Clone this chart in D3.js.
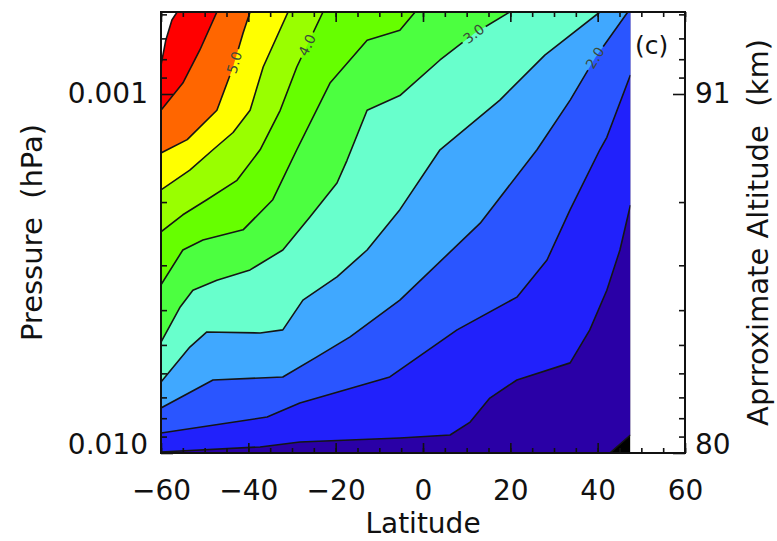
<!DOCTYPE html>
<html>
<head>
<meta charset="utf-8">
<script src="https://cdn.jsdelivr.net/npm/d3@7"></script>
<style>
  body { margin: 0; background: #fff; }
  text { font-family: "DejaVu Sans", sans-serif; fill: #111; }
</style>
</head>
<body>
<div id="chart"></div>
<script>
// contour levels and band colours (lowest band first, one more colour than levels)
let levels = [0.5, 1.0, 1.5, 2.0, 2.5, 3.0, 3.5, 4.0, 4.5, 5.0, 5.5, 6.0];
let bandColors = ['#000000', '#2a00a6', '#2121fb', '#2a55ff', '#40a8ff', '#68ffcc',
                  '#4cff40', '#66ff00', '#99ff00', '#ffff00', '#ff6600', '#ff0000', '#ffffff'];

// contour lines, [latitude, pressure hPa], from left/bottom edge to top/right edge
let line05 = [[42.8, 0.0100], [47.5, 0.00891]];
let line10 = [[-60, 0.00994], [-37.3, 0.00962], [-28.2, 0.00932], [-5.3, 0.00908], [6.2, 0.00891],
              [10.8, 0.00820], [15.3, 0.00703], [21.5, 0.00626], [33.7, 0.00561], [38.2, 0.00454],
              [42.1, 0.00352], [45.1, 0.00272], [47.5, 0.00204]];
let line15 = [[-60, 0.00880], [-35.7, 0.00794], [-28.2, 0.00726], [-7.6, 0.00614], [7.8, 0.00454],
              [21.5, 0.00368], [28.4, 0.00290], [33.7, 0.00210], [40.5, 0.00143], [42.1, 0.00132],
              [47.5, 0.000886]];
let line20 = [[-60, 0.00749], [-48.1, 0.00626], [-32.1, 0.00614], [-24.3, 0.00540], [-16.7, 0.00475],
              [-5.3, 0.00375], [13.1, 0.00229], [26.1, 0.00143], [33.7, 0.00104], [39.4, 0.000794],
              [46.9, 0.000591]];
let line25 = [[-60, 0.00634], [-53.4, 0.00507], [-49.5, 0.00460], [-37.3, 0.00463], [-32.1, 0.00454],
              [-27.5, 0.00375], [-19.7, 0.00323], [-12.8, 0.00272], [-5.3, 0.00210], [3.9, 0.00143],
              [17.6, 0.00104], [27.9, 0.000779], [40.5, 0.000591]];
let line30 = [[-60, 0.00491], [-55.6, 0.00392], [-52.7, 0.00352], [-47.2, 0.00330], [-39.6, 0.00309],
              [-32.1, 0.00272], [-25.9, 0.00220], [-19.7, 0.00177], [-17.4, 0.00153], [-12.8, 0.00111],
              [-5.3, 0.00101], [3.9, 0.000804], [11.9, 0.000676], [19.9, 0.000591]];
let line35 = [[-60, 0.00340], [-55, 0.00272], [-50.4, 0.00255], [-41.2, 0.00239], [-34.4, 0.00197],
              [-28.9, 0.00143], [-21.3, 0.000932], [-12.8, 0.000708], [-5.3, 0.000664], [-1.8, 0.000591]];
let line40 = [[-60, 0.00242], [-55, 0.00217], [-49.5, 0.00197], [-42.6, 0.00174], [-37.3, 0.00143],
              [-32.7, 0.00111], [-28.9, 0.000841], [-22.9, 0.000591]];
let line45 = [[-60, 0.00185], [-53.4, 0.00163], [-48.1, 0.00143], [-43.5, 0.00128], [-39.6, 0.00111],
              [-36.6, 0.000841], [-30.9, 0.000591]];
let line50 = [[-60, 0.00146], [-54, 0.00134], [-47.2, 0.00111], [-43.5, 0.000841], [-41.2, 0.000676],
              [-39.6, 0.000591]];
let line55 = [[-60, 0.00111], [-55, 0.000932], [-51.1, 0.000754], [-47.2, 0.000591]];
let line60 = [[-60, 0.000831], [-58.9, 0.000708], [-57.5, 0.000622], [-56.3, 0.000591]];
let contourLines = [line05, line10, line15, line20, line25, line30, line35, line40, line45, line50, line55, line60];

// contour labels
let labelLevels = [5.0, 4.0, 3.0, 2.0];
let labelLats = [-43.7, -26.6, 11.2, 39.4];
let labelPres = [0.000814, 0.00073, 0.00067, 0.000794];

// axes
let latTicks = [-60, -40, -20, 0, 20, 40, 60];
let latMinorTicks = d3.range(-60, 61, 5);
let presTicks = [0.001, 0.01];
let presTickLabels = ['0.001', '0.010'];
let altTickLabels = ['91', '80'];
let presMinorTicks = [0.0006, 0.0007, 0.0008, 0.0009, 0.002, 0.003, 0.004, 0.005, 0.006, 0.007, 0.008, 0.009];

let latMin = -60, latEnd = 47.5;
let pBottom = 0.01, pTop = 0.000591;

// margins
let margin = { top: 12, right: 92, bottom: 88, left: 161 };
let width = 777 - margin.left - margin.right,
    height = 541 - margin.top - margin.bottom;

let svg = d3.select('#chart').append('svg')
    .attr('width', 777)
    .attr('height', 541)
    .append('g')
    .attr('transform', 'translate(' + margin.left + ',' + margin.top + ')');

let x = d3.scaleLinear().domain([-60, 60]).range([0, width]);
let y = d3.scaleLog().domain([pBottom, pTop]).range([height, 0]);

let line = d3.line().x(d => x(d[0])).y(d => y(d[1]));

// clip to the data area
let defs = svg.append('defs');
defs.append('clipPath').attr('id', 'dataClip')
    .append('rect')
    .attr('x', x(latMin)).attr('y', 0)
    .attr('width', x(latEnd) - x(latMin)).attr('height', height);

let fills = svg.append('g').attr('clip-path', 'url(#dataClip)');

// lowest band
fills.append('rect')
    .attr('x', x(latMin)).attr('y', 0)
    .attr('width', x(latEnd) - x(latMin)).attr('height', height)
    .attr('fill', bandColors[0]);

// close each line round the high (upper left) side
function bandPoints(pts) {
    let out = pts.slice();
    let first = pts[0], last = pts[pts.length - 1];
    if (last[0] >= latEnd - 0.01) out.push([latEnd, pTop]);
    out.push([latMin, pTop]);
    if (first[0] > latMin + 0.01) out.push([latMin, pBottom]);
    return out;
}

contourLines.forEach(function(pts, i) {
    fills.append('path')
        .attr('d', line(bandPoints(pts)) + 'Z')
        .attr('fill', bandColors[i + 1]);
});

// find label spots and angles on their lines
let labels = labelLevels.map(function(lev, i) {
    let pts = contourLines[levels.indexOf(lev)].map(d => [x(d[0]), y(d[1])]);
    let px = x(labelLats[i]), py = y(labelPres[i]);
    let best = null;
    for (let k = 0; k < pts.length - 1; k++) {
        let a = pts[k], b = pts[k + 1];
        let dx = b[0] - a[0], dy = b[1] - a[1];
        let t = ((px - a[0]) * dx + (py - a[1]) * dy) / (dx * dx + dy * dy);
        t = Math.max(0, Math.min(1, t));
        let qx = a[0] + t * dx, qy = a[1] + t * dy;
        let dist = (qx - px) * (qx - px) + (qy - py) * (qy - py);
        if (!best || dist < best.dist) {
            let ang = Math.atan2(dy, dx) * 180 / Math.PI;
            if (ang > 90) ang -= 180;
            if (ang < -90) ang += 180;
            best = { x: qx, y: qy, angle: ang, dist: dist };
        }
    }
    best.text = lev.toFixed(1);
    return best;
});

// gaps in the lines under the labels
let mask = defs.append('mask').attr('id', 'labelGaps')
    .attr('maskUnits', 'userSpaceOnUse')
    .attr('x', -50).attr('y', -50).attr('width', width + 100).attr('height', height + 100);
mask.append('rect')
    .attr('x', -50).attr('y', -50).attr('width', width + 100).attr('height', height + 100)
    .attr('fill', 'white');
labels.forEach(function(l) {
    mask.append('rect')
        .attr('x', -14).attr('y', -6).attr('width', 28).attr('height', 12)
        .attr('transform', 'translate(' + l.x + ',' + l.y + ') rotate(' + l.angle + ')')
        .attr('fill', 'black');
});

let lines = svg.append('g')
    .attr('clip-path', 'url(#dataClip)')
    .append('g')
    .attr('mask', 'url(#labelGaps)');

contourLines.forEach(function(pts) {
    lines.append('path')
        .attr('d', line(pts))
        .attr('fill', 'none')
        .attr('stroke', '#151515')
        .attr('stroke-width', 1.6)
        .attr('stroke-linejoin', 'round');
});

svg.selectAll('.clabel')
    .data(labels)
    .enter().append('text')
    .attr('class', 'clabel')
    .attr('transform', d => 'translate(' + d.x + ',' + d.y + ') rotate(' + d.angle + ')')
    .attr('text-anchor', 'middle')
    .attr('dy', '0.35em')
    .style('font-size', '14px')
    .style('fill', '#3a4a3a')
    .text(d => d.text);

// axes
function styleAxis(g) {
    g.select('.domain').remove();
    g.selectAll('line').attr('stroke', '#111').attr('stroke-width', 1.6);
    g.selectAll('text').style('font-size', '28px').attr('fill', '#111');
}

// bottom
svg.append('g').attr('transform', 'translate(0,' + height + ')')
    .call(d3.axisBottom(x).tickValues(latMinorTicks).tickSize(-5).tickFormat(''))
    .call(styleAxis);
svg.append('g').attr('transform', 'translate(0,' + height + ')')
    .call(d3.axisBottom(x).tickValues(latTicks).tickSize(-10).tickPadding(27)
        .tickFormat(d => d < 0 ? '\u2212' + Math.abs(d) : d))
    .call(styleAxis);
// top
svg.append('g')
    .call(d3.axisTop(x).tickValues(latMinorTicks).tickSize(-5).tickFormat(''))
    .call(styleAxis);
svg.append('g')
    .call(d3.axisTop(x).tickValues(latTicks).tickSize(-10).tickFormat(''))
    .call(styleAxis);

// left
svg.append('g')
    .call(d3.axisLeft(y).tickValues(presMinorTicks).tickSize(-6).tickFormat(''))
    .call(styleAxis);
svg.append('g')
    .call(d3.axisLeft(y).tickValues(presTicks).tickSize(-12).tickPadding(13)
        .tickFormat((d, i) => presTickLabels[i]))
    .call(styleAxis)
    .selectAll('text').attr('dy', (d, i) => i === 1 ? '0em' : '0.32em');

// right, approximate altitude
svg.append('g').attr('transform', 'translate(' + width + ',0)')
    .call(d3.axisRight(y).tickValues(presMinorTicks).tickSize(-6).tickFormat(''))
    .call(styleAxis);
svg.append('g').attr('transform', 'translate(' + width + ',0)')
    .call(d3.axisRight(y).tickValues(presTicks).tickSize(-12).tickPadding(10)
        .tickFormat((d, i) => altTickLabels[i]))
    .call(styleAxis)
    .selectAll('text').attr('dy', (d, i) => i === 1 ? '0em' : '0.32em');

// frame
svg.append('rect')
    .attr('width', width).attr('height', height)
    .attr('fill', 'none').attr('stroke', '#111').attr('stroke-width', 2);

// titles
svg.append('text')
    .attr('x', width / 2).attr('y', 521)
    .attr('text-anchor', 'middle')
    .style('font-size', '28px')
    .text('Latitude');

svg.append('text')
    .attr('transform', 'translate(' + (42 - margin.left) + ',' + (height / 2) + ') rotate(-90)')
    .attr('text-anchor', 'middle')
    .style('font-size', '29px')
    .style('white-space', 'pre')
    .text('Pressure  (hPa)');

svg.append('text')
    .attr('transform', 'translate(' + (768 - margin.left) + ',' + (height / 2) + ') rotate(-90)')
    .attr('text-anchor', 'middle')
    .style('font-size', '29px')
    .style('white-space', 'pre')
    .text('Aprroximate Altitude  (km)');

svg.append('text')
    .attr('x', 635 - margin.left).attr('y', 54 - margin.top)
    .style('font-size', '25px')
    .text('(c)');
</script>
</body>
</html>
